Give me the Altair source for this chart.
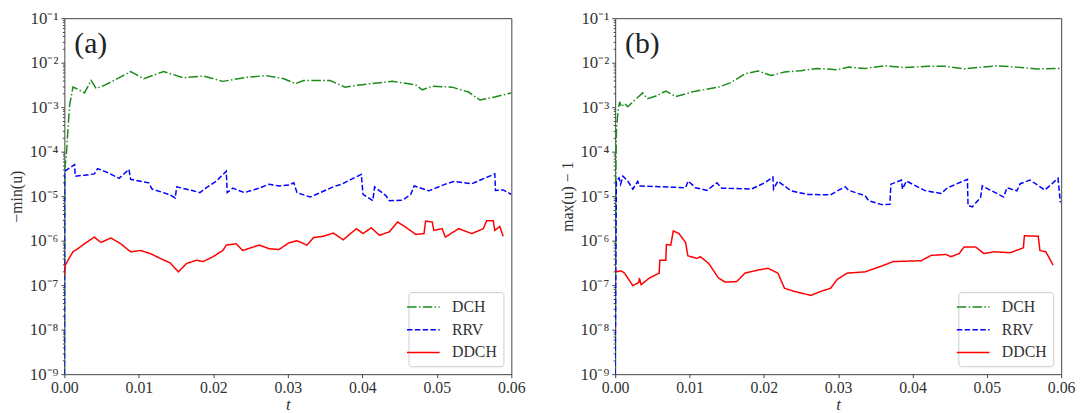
import altair as alt
import pandas as pd

# ---------------- data (values as log10) ----------------
series_names = ["DCH", "RRV", "DDCH"]
series_colors = ["#1a8c1a", "#0000ff", "#ff0000"]
series_dashes = [[9.6, 2.4, 1.5, 2.4], [5.5, 2.4], [1, 0]]

# panel (a): -min(u)
a_dch_t = [0, 0.00004, 0.00027, 0.00049, 0.00070, 0.00115, 0.00159, 0.00270, 0.00359, 0.00425,
           0.00536, 0.00712, 0.00889, 0.01066, 0.01332, 0.01597, 0.01863, 0.02128, 0.02439, 0.02704,
           0.02947, 0.03102, 0.03212, 0.03567, 0.03766, 0.03965, 0.04407, 0.04717, 0.04805, 0.04938,
           0.05204, 0.05425, 0.05579, 0.05778, 0.06]
a_dch_lg = [-9, -4.4, -4.07, -3.47, -2.96, -2.55, -2.58, -2.68, -2.40, -2.58,
            -2.51, -2.36, -2.20, -2.36, -2.20, -2.34, -2.30, -2.42, -2.33, -2.29,
            -2.36, -2.47, -2.40, -2.40, -2.55, -2.50, -2.42, -2.50, -2.61, -2.53,
            -2.55, -2.66, -2.84, -2.77, -2.68]

a_rrv_t = [0, 0.00004, 0.00137, 0.00146, 0.00269, 0.00402, 0.00447, 0.00580, 0.00734, 0.00867,
           0.00889, 0.01132, 0.01177, 0.01420, 0.01487, 0.01509, 0.01730, 0.01819, 0.01907, 0.02040,
           0.02173, 0.02186, 0.02261, 0.02416, 0.02615, 0.02748, 0.02880, 0.03013, 0.03080, 0.03123,
           0.03301, 0.03610, 0.03721, 0.03986, 0.04009, 0.04141, 0.04164, 0.04318, 0.04363, 0.04540,
           0.04650, 0.04695, 0.04894, 0.05114, 0.05226, 0.05469, 0.05778, 0.05787, 0.05890, 0.06]
a_rrv_lg = [-9, -4.44, -4.29, -4.55, -4.53, -4.50, -4.38, -4.47, -4.60, -4.40,
            -4.62, -4.70, -4.84, -4.97, -5.04, -4.79, -4.88, -4.92, -4.81, -4.66,
            -4.44, -4.92, -4.82, -4.92, -4.82, -4.73, -4.77, -4.75, -4.70, -4.92,
            -5.02, -4.79, -4.73, -4.51, -4.96, -5.10, -4.79, -4.99, -5.10, -5.09,
            -4.96, -4.77, -4.88, -4.73, -4.67, -4.72, -4.50, -4.87, -4.86, -4.96]

a_ddch_t = [0, 0.00013, 0.00049, 0.00115, 0.00182, 0.00269, 0.00402, 0.00491, 0.00624, 0.00757,
            0.00889, 0.01022, 0.01155, 0.01288, 0.01420, 0.01530, 0.01642, 0.01775, 0.01862, 0.01995,
            0.02128, 0.02173, 0.02306, 0.02393, 0.02615, 0.02748, 0.02880, 0.03013, 0.03123, 0.03256,
            0.03345, 0.03478, 0.03610, 0.03743, 0.03920, 0.04009, 0.04119, 0.04230, 0.04363, 0.04473,
            0.04584, 0.04717, 0.04828, 0.04849, 0.04938, 0.04960, 0.05071, 0.05114, 0.05292, 0.05469,
            0.05624, 0.05668, 0.05757, 0.05778, 0.05845, 0.05890]
a_ddch_lg = [-6.8, -6.55, -6.44, -6.25, -6.18, -6.07, -5.92, -6.04, -5.94, -6.07,
             -6.25, -6.22, -6.29, -6.40, -6.50, -6.70, -6.51, -6.44, -6.47, -6.36,
             -6.22, -6.10, -6.07, -6.22, -6.10, -6.18, -6.20, -6.05, -6.00, -6.10,
             -5.93, -5.90, -5.83, -5.98, -5.73, -5.84, -5.71, -5.88, -5.80, -5.58,
             -5.70, -5.86, -5.84, -5.56, -5.58, -5.77, -5.73, -5.92, -5.73, -5.84,
             -5.73, -5.55, -5.55, -5.77, -5.68, -5.90]

# panel (b): max(u) - 1
b_dch_t = [0, 0.00009, 0.00016, 0.00037, 0.00060, 0.00082, 0.00126, 0.00170, 0.00237, 0.00370,
           0.00436, 0.00548, 0.00681, 0.00814, 0.01080, 0.01390, 0.01567, 0.01745, 0.01922, 0.02099,
           0.02278, 0.02499, 0.02721, 0.02987, 0.03142, 0.03363, 0.03629, 0.03895, 0.04207, 0.04428,
           0.04694, 0.04872, 0.05138, 0.05404, 0.05670, 0.06]
b_dch_lg = [-9, -4.5, -3.55, -3.10, -2.88, -2.99, -2.92, -2.99, -2.88, -2.68,
            -2.81, -2.75, -2.64, -2.76, -2.64, -2.55, -2.44, -2.25, -2.19, -2.29,
            -2.21, -2.18, -2.13, -2.16, -2.10, -2.13, -2.07, -2.11, -2.08, -2.08,
            -2.14, -2.11, -2.07, -2.10, -2.14, -2.13]

b_rrv_t = [0, 0.00016, 0.00051, 0.00073, 0.00104, 0.00170, 0.00237, 0.00303, 0.00326, 0.00947,
           0.00982, 0.01080, 0.01235, 0.01368, 0.01434, 0.01833, 0.02012, 0.02122, 0.02131, 0.02189,
           0.02365, 0.02588, 0.02898, 0.02987, 0.03097, 0.03142, 0.03363, 0.03408, 0.03585, 0.03696,
           0.03709, 0.03851, 0.03865, 0.03918, 0.04161, 0.04383, 0.04473, 0.04739, 0.04747, 0.04805,
           0.04916, 0.04938, 0.05226, 0.05271, 0.05404, 0.05448, 0.05581, 0.05781, 0.05958, 0.05989]
b_rrv_lg = [-9, -4.66, -4.59, -4.73, -4.55, -4.66, -4.84, -4.67, -4.77, -4.81,
            -4.66, -4.81, -4.87, -4.70, -4.82, -4.84, -4.70, -4.57, -4.84, -4.66,
            -4.88, -4.96, -4.97, -4.88, -4.79, -4.87, -4.99, -5.10, -5.19, -5.18,
            -4.73, -4.64, -4.84, -4.66, -4.87, -4.94, -4.81, -4.62, -5.21, -5.24,
            -5.03, -4.77, -5.02, -4.81, -4.88, -4.72, -4.64, -4.86, -4.60, -5.14]

b_ddch_t = [0, 0.00082, 0.00126, 0.00237, 0.00317, 0.00326, 0.00349, 0.00459, 0.00592, 0.00601,
            0.00681, 0.00689, 0.00748, 0.00782, 0.00858, 0.00947, 0.00978, 0.01102, 0.01147, 0.01257,
            0.01390, 0.01479, 0.01634, 0.01745, 0.01922, 0.02055, 0.02189, 0.02278, 0.02411, 0.02632,
            0.02765, 0.02898, 0.02987, 0.03120, 0.03363, 0.03585, 0.03741, 0.04118, 0.04251, 0.04450,
            0.04517, 0.04627, 0.04694, 0.04849, 0.04960, 0.05093, 0.05315, 0.05492, 0.05505, 0.05692,
            0.05714, 0.05794, 0.05891]
b_ddch_lg = [-6.70, -6.68, -6.73, -7.01, -6.94, -6.84, -6.99, -6.84, -6.73, -6.44,
             -6.44, -6.09, -6.10, -5.78, -5.84, -6.04, -6.34, -6.40, -6.36, -6.51,
             -6.84, -6.93, -6.92, -6.73, -6.66, -6.62, -6.73, -7.07, -7.14, -7.23,
             -7.14, -7.07, -6.87, -6.73, -6.70, -6.57, -6.47, -6.45, -6.33, -6.31,
             -6.36, -6.29, -6.14, -6.14, -6.29, -6.25, -6.27, -6.16, -5.89, -5.90,
             -6.22, -6.25, -6.55]

x_ticks = [0.0, 0.01, 0.02, 0.03, 0.04, 0.05, 0.06]
y_decades = [-9, -8, -7, -6, -5, -4, -3, -2, -1]
y_minor_mantissas = [2, 3, 4, 5, 6, 7, 8, 9]

# ---------------- build tables ----------------
def table(parts):
    rows = []
    for name, ts, lgs in parts:
        for t, lg in zip(ts, lgs):
            rows.append({"t": t, "v": 10.0 ** lg, "series": name})
    return pd.DataFrame(rows)

df_a = table([("DCH", a_dch_t, a_dch_lg), ("RRV", a_rrv_t, a_rrv_lg), ("DDCH", a_ddch_t, a_ddch_lg)])
df_b = table([("DCH", b_dch_t, b_dch_lg), ("RRV", b_rrv_t, b_rrv_lg), ("DDCH", b_ddch_t, b_ddch_lg)])

y_tick_values = [10.0 ** d for d in y_decades]
for d in y_decades[:-1]:
    for m in y_minor_mantissas:
        y_tick_values.append(m * 10.0 ** d)

FONT = "Liberation Serif"
TXT = "#333333"
LINE = "#444444"

is_major = "abs(log(datum.value)/LN10 - round(log(datum.value)/LN10)) < 0.01"
label_expr = (is_major + " ? '10\u207b' + substring('\u2070\u00b9\u00b2\u00b3\u2074\u2075\u2076\u2077\u2078\u2079', "
              "-round(log(datum.value)/LN10), -round(log(datum.value)/LN10) + 1) : ''")


def panel(df, ytitle, tag, width):
    legend = alt.Legend(
        title=None, orient="bottom-right", offset=8,
        symbolType="M-2,0H2", symbolSize=272, symbolStrokeWidth=1.5,
        labelFont=FONT, labelFontSize=16, labelColor=TXT, labelOffset=20,
        rowPadding=6, padding=6, strokeColor="#cccccc", fillColor="white",
        cornerRadius=3,
    )
    lines = alt.Chart(df).mark_line(clip=True, strokeWidth=1.5).encode(
        x=alt.X("t:Q",
                scale=alt.Scale(domain=[0, 0.06], nice=False, zero=False),
                axis=alt.Axis(values=x_ticks, format=".2f", title="t", titleFontStyle="italic",
                              titleFont=FONT, titleFontSize=17, titleFontWeight="normal", titleColor=TXT,
                              titlePadding=1, labelFont=FONT, labelFontSize=16, labelColor=TXT,
                              labelPadding=2, labelFlush=False, tickSize=3.5, tickColor=LINE,
                              domain=False, grid=False)),
        y=alt.Y("v:Q",
                scale=alt.Scale(type="log", domain=[1e-9, 1e-1], nice=False),
                axis=alt.Axis(values=y_tick_values, labelExpr=label_expr, labelOverlap=False,
                              title=ytitle, titleFont=FONT, titleFontSize=16, titleFontWeight="normal",
                              titleColor=TXT, titlePadding=5, labelFont=FONT, labelFontSize=17,
                              labelColor=TXT, labelPadding=3, labelFlush=False,
                              tickSize={"condition": {"test": is_major, "value": 3.5}, "value": 2},
                              tickColor=LINE, domain=False, grid=False)),
        color=alt.Color("series:N", scale=alt.Scale(domain=series_names, range=series_colors),
                        legend=legend),
        strokeDash=alt.StrokeDash("series:N", scale=alt.Scale(domain=series_names, range=series_dashes),
                                  legend=legend),
    )
    label = alt.Chart(pd.DataFrame({"tag": [tag]})).mark_text(
        font=FONT, fontSize=30, color="#222222", align="left", baseline="middle"
    ).encode(text="tag:N", x=alt.value(10), y=alt.value(26))
    return alt.layer(lines, label).properties(width=width, height=360)


chart = alt.hconcat(
    panel(df_a, "\u2212min(u)", "(a)", 452),
    panel(df_b, "max(u) \u2212 1", "(b)", 451),
    spacing=33,
).resolve_scale(color="independent", strokeDash="independent").resolve_legend(
    color="independent", strokeDash="independent"
).configure_view(stroke=LINE, strokeWidth=1).properties(
    padding={"left": 0, "top": -2, "right": 0, "bottom": 0}
)

chart.save("out.html", embed_options={"renderer": "svg", "actions": False})
